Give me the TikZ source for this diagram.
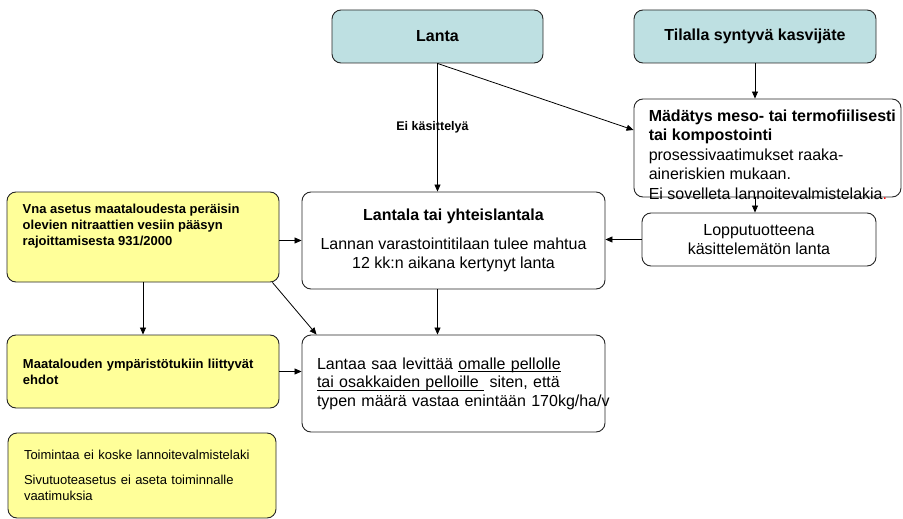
\documentclass[tikz,border=0pt]{standalone}
\usepackage{fontspec}
\setmainfont{Liberation Sans}
\usepackage{tikz}
\usetikzlibrary{arrows.meta}
\definecolor{tealbox}{RGB}{190,224,226}
\definecolor{yellowbox}{RGB}{255,255,153}
\newcommand{\bigtxt}{\fontsize{16}{19.5}\selectfont}
\newcommand{\smalltxt}{\fontsize{13}{16}\selectfont}
\newcommand{\undl}[1]{\vtop{\hbox{\raisebox{0pt}[\height][0pt]{#1}}\kern2pt\hrule height 0.7pt}}
\tikzset{
	box/.style={draw=black!85, line width=0.9pt, rounded corners=9pt, inner sep=0pt},
	arr/.style={draw=black, line width=0.8pt, -{Triangle[length=7pt, width=6pt]}},
	lbl/.style={inner sep=0pt, font=\fontsize{12.5}{14}\selectfont\bfseries}
}

\begin{document}
\begin{tikzpicture}[x=1pt, y=-1pt]
		%%%%% START %%%%%
		\useasboundingbox (0, 0) rectangle (903, 519);
		
		\node[box, fill=tealbox, minimum width=211, minimum height=53, font=\bigtxt\bfseries] (lanta) at (437.5, 36.5) {Lanta};
		\node[box, fill=tealbox, minimum width=242, minimum height=53, font=\bigtxt\bfseries] (kasvi) at (755, 36.5) {Tilalla syntyvä kasvijäte};
		
		\node[box, fill=white, minimum width=267, minimum height=98] (madatys) at (767.5, 148) {};
		\node[anchor=north west, align=left, inner sep=0pt, font=\bigtxt] (madatysteksti) at ([xshift=15pt, yshift=-11pt]madatys.north west) {\textbf{Mädätys meso- tai termofiilisesti}\\ \textbf{tai kompostointi}\\ prosessivaatimukset raaka-\\ aineriskien mukaan.\\ Ei sovelleta lannoitevalmistelakia\textcolor{red}{.}};
		
		\node[box, fill=white, minimum width=303, minimum height=97, align=center, font=\bigtxt] (lantala) at (453.5, 240.5) {\textbf{Lantala tai yhteislantala}\\[9pt] Lannan varastointitilaan tulee mahtua\\ 12 kk:n aikana kertynyt lanta};
		\node[box, fill=white, minimum width=234, minimum height=53, align=center, font=\bigtxt] (loppu) at (759, 239.5) {Lopputuotteena\\ käsittelemätön lanta};
		\node[box, fill=white, minimum width=303, minimum height=97, text width=273, inner xsep=15pt, align=left, font=\fontsize{16}{18.5}\selectfont] (lantaa) at (453.5, 383.5) {\mbox{Lantaa saa levittää \undl{omalle pellolle}}\\ \mbox{\undl{tai osakkaiden pelloille\ } siten, että}\\ \mbox{typen määrä vastaa enintään 170kg/ha/v}};
		
		\node[box, fill=yellowbox, minimum width=272, minimum height=90] (vna) at (143, 237) {};
		\node[anchor=north west, align=left, inner sep=0pt, font=\smalltxt\bfseries] (vnateksti) at ([xshift=16pt, yshift=-12pt]vna.north west) {Vna asetus maataloudesta peräisin\\ olevien nitraattien vesiin pääsyn\\ rajoittamisesta 931/2000};
		\node[box, fill=yellowbox, minimum width=272, minimum height=73, text width=240, inner xsep=16pt, align=left, font=\smalltxt\bfseries] (ehdot) at (143, 371.5) {Maatalouden ympäristötukiin liittyvät\\ ehdot};
		\node[box, fill=yellowbox, minimum width=268, minimum height=85, text width=236, inner xsep=16pt, align=left, font=\smalltxt] (toiminta) at (142, 475.5) {Toimintaa ei koske lannoitevalmistelaki\\[9pt] Sivutuoteasetus ei aseta toiminnalle\\ vaatimuksia};
		
		\draw[arr] (lanta.south) -- node[lbl, xshift=-5pt] (eikasittelya) {Ei käsittelyä} (lanta.south |- lantala.north);
		\draw[arr] (lanta.south) -- ([yshift=18pt]madatys.west);
		\draw[arr] (kasvi.south) -- (kasvi.south |- madatys.north);
		\draw[arr] (kasvi.south |- madatys.south) -- (kasvi.south |- loppu.north);
		\draw[arr] (loppu.west) -- (loppu.west -| lantala.east);
		\draw[arr] (lantala.west -| vna.east) -- (lantala.west);
		\draw[arr] (lanta.south |- lantala.south) -- (lanta.south |- lantaa.north);
		
		\draw[arr] (vna.south) -- (ehdot.north);
		\draw[arr] ([xshift=-7pt]vna.south east) -- ([xshift=15pt]lantaa.north west);
		\draw[arr] (ehdot.east) -- (ehdot.east -| lantaa.west);
		
		%%%%% END %%%%%
	\end{tikzpicture}
\end{document}
